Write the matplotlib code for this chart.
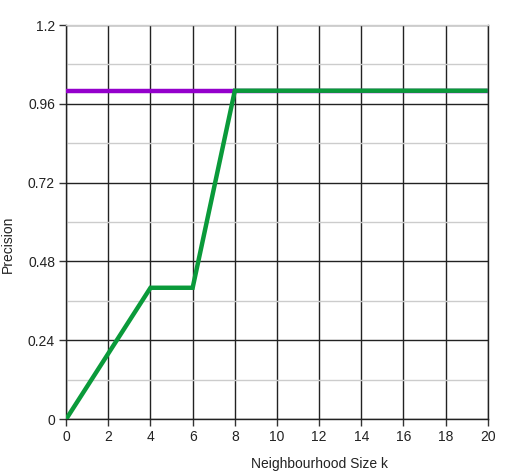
import matplotlib

matplotlib.use("Agg")
import matplotlib.pyplot as plt
from matplotlib.ticker import FixedLocator, FuncFormatter

plt.rcParams["font.family"] = ["Liberation Sans", "DejaVu Sans"]

# data
k = [0, 2, 4, 6, 8, 10, 12, 14, 16, 18, 20]
precision_a = [1.0, 1.0, 1.0, 1.0, 1.0, 1.0, 1.0, 1.0, 1.0, 1.0, 1.0]
precision_b = [0.0, 0.2, 0.4, 0.4, 1.0, 1.0, 1.0, 1.0, 1.0, 1.0, 1.0]
y_major = [0, 0.24, 0.48, 0.72, 0.96, 1.2]
y_minor = [0.12, 0.36, 0.6, 0.84, 1.08]
x_ticks = list(range(0, 21, 2))

fig = plt.figure(figsize=(5.05, 4.72), dpi=100)
ax = fig.add_axes([0.131, 0.112, 0.835, 0.835])

ax.plot(k, precision_a, color="#9400cc", linewidth=3.2, solid_capstyle="butt", zorder=3)
ax.plot(k, precision_b, color="#0a9a3a", linewidth=3.2, solid_capstyle="butt",
        solid_joinstyle="miter", zorder=4)

ax.set_xlim(0, 20)
ax.set_ylim(0, 1.2)
ax.xaxis.set_major_locator(FixedLocator(x_ticks))
ax.yaxis.set_major_locator(FixedLocator(y_major))
ax.yaxis.set_minor_locator(FixedLocator(y_minor))
ax.yaxis.set_major_formatter(FuncFormatter(lambda v, _: f"{v:.2f}".rstrip("0").rstrip(".")))

ax.grid(True, which="major", color="#222222", linewidth=1.0)
ax.grid(True, which="minor", axis="y", color="#cccccc", linewidth=1.0)
ax.set_axisbelow(True)

ax.tick_params(which="major", direction="out", length=5, width=1, color="#333333",
               labelsize=10, labelcolor="#222222", pad=3)
ax.tick_params(which="minor", length=0)

for side in ("left", "bottom", "right"):
    ax.spines[side].set_color("#222222")
    ax.spines[side].set_linewidth(1.0)
ax.spines["top"].set_color("#cccccc")
ax.spines["top"].set_linewidth(1.0)

ax.set_xlabel("Neighbourhood Size k", fontsize=10, color="#222222")
ax.set_ylabel("Precision", fontsize=10, color="#222222")
# label positions in axes fraction, taken from reference pixel positions
ax.xaxis.set_label_coords((320 - 66) / 422, -(457 - 419) / 394)
ax.yaxis.set_label_coords(-(66 - 15) / 422, (419 - 244) / 394)

fig.savefig("out.png", dpi=100)
